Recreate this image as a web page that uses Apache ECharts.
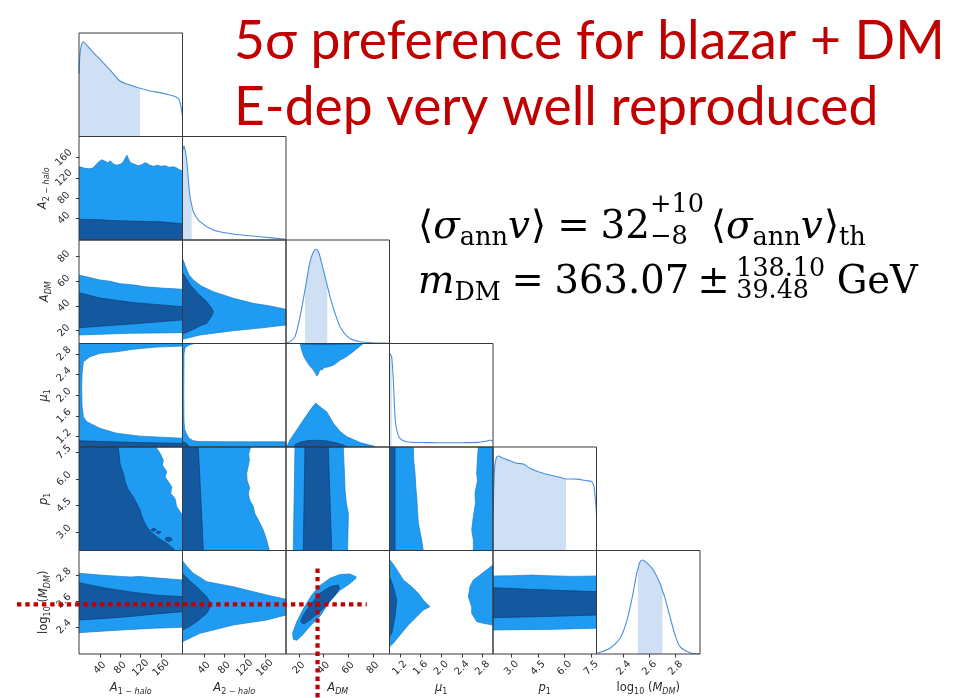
<!DOCTYPE html>
<html>
<head>
<meta charset="utf-8">
<script src="https://cdn.jsdelivr.net/npm/echarts@6/dist/echarts.min.js"></script>
<style>
html, body { margin: 0; padding: 0; background: #fff; }
#chart { width: 970px; height: 698px; }
</style>
</head>
<body>
<div id="chart"></div>
<script>
// ---------- parameters / axes ----------
const paramKeys = ['A1', 'A2', 'ADM', 'mu1', 'p1', 'logM'];
const axisMin = [-1, -3, 9.5, 1.0, 1.95, 2.19];
const axisMax = [202, 202, 93.5, 3.0, 7.8, 2.99];
const ticksA1 = [40, 80, 120, 160];
const ticksA2 = [40, 80, 120, 160];
const ticksADM = [20, 40, 60, 80];
const ticksMu1 = [1.2, 1.6, 2.0, 2.4, 2.8];
const ticksP1 = [3.0, 4.5, 6.0, 7.5];
const ticksLogM = [2.4, 2.6, 2.8];
const tickDecimals = [0, 0, 0, 1, 1, 1];
const axisTitles = [
  '{i|A}{s|1 − }{si|halo}',
  '{i|A}{s|2 − }{si|halo}',
  '{i|A}{si|DM}',
  '{i|μ}{s|1}',
  '{i|p}{s|1}',
  '{n|log}{s|10}{n| (}{i|M}{si|DM}{n|)}'
];

// ---------- 1D marginal posteriors (value, relative density) ----------
const margA1 = [[-1, 0.61], [1.0, 0.80], [4.3, 0.894], [7.4, 0.916], [14.1, 0.884], [27.1, 0.81], [40.2, 0.746],
  [59.8, 0.643], [79.4, 0.536], [99, 0.498], [118.6, 0.466], [138.3, 0.44], [157.9, 0.424], [177.5, 0.401],
  [190.6, 0.379], [195.8, 0.353], [199, 0.288], [202, 0.19]];
const bandA1 = [-1, 118.6];

const margA2 = [[-3, 0.86], [0, 0.908], [2.5, 0.86], [5.3, 0.773], [8.6, 0.58], [11.9, 0.418], [15.2, 0.34],
  [18.4, 0.274], [31.7, 0.177], [58.1, 0.097], [97.6, 0.058], [150.5, 0.032], [202, 0.007]];
const bandA2 = [-3, 15.2];

const margADM = [[10.0, 0.005], [13, 0.02], [16.8, 0.066], [20.9, 0.259], [24.9, 0.517], [29, 0.79], [31.5, 0.88],
  [33.8, 0.91], [35.5, 0.895], [37.1, 0.839], [41.2, 0.645], [43, 0.56], [45.2, 0.452], [49.3, 0.292],
  [53.3, 0.162], [58.9, 0.072], [64, 0.035], [69.6, 0.017], [77, 0.008], [85.8, 0.005], [93.3, 0.003]];
const bandADM = [24.9, 43];

const margMu1 = [[1.005, 0.905], [1.042, 0.872], [1.074, 0.647], [1.106, 0.293], [1.139, 0.164], [1.203, 0.084],
  [1.332, 0.051], [1.6, 0.043], [1.782, 0.042], [2.1, 0.041], [2.426, 0.042], [2.7, 0.045], [2.812, 0.05],
  [2.9, 0.06], [2.942, 0.068], [2.97, 0.062], [2.994, 0.055]];
const bandMu1 = [1.005, 1.042];

const margP1 = [[1.96, 0.35], [1.99, 0.6], [2.05, 0.82], [2.15, 0.9], [2.251, 0.913], [2.534, 0.891], [2.9, 0.868],
  [3.288, 0.843], [3.5, 0.84], [3.664, 0.835], [4.041, 0.794], [4.3, 0.775], [4.606, 0.756], [5.172, 0.729],
  [5.737, 0.707], [6.076, 0.691], [6.679, 0.69], [7.244, 0.674], [7.527, 0.665], [7.659, 0.617], [7.73, 0.5],
  [7.772, 0.423], [7.8, 0.34]];
const bandP1 = [1.96, 6.076];

const margLogM = [[2.196, 0.007], [2.294, 0.055], [2.372, 0.152], [2.423, 0.312], [2.462, 0.522], [2.501, 0.78],
  [2.51, 0.82], [2.526, 0.892], [2.547, 0.908], [2.578, 0.882], [2.629, 0.812], [2.681, 0.683], [2.70, 0.613],
  [2.72, 0.538], [2.758, 0.36], [2.797, 0.184], [2.835, 0.071], [2.913, 0.013], [2.99, 0.0]];
const bandLogM = [2.51, 2.70];

// ---------- 2D credible regions (outer = 2 sigma, inner = 1 sigma) ----------
const outerA2vA1 = [[-1, -3], [202, -3], [202, 134], [196, 136], [190, 140], [184, 142], [176, 141], [168, 144],
  [160, 143], [152, 145], [145, 143], [138, 145], [132, 149], [128, 150], [122, 146], [115, 144], [108, 147],
  [100, 150], [96, 158], [93, 165], [90, 160], [86, 152], [80, 147], [72, 145], [66, 148], [60, 154], [56, 150],
  [50, 153], [44, 156], [38, 152], [32, 146], [27, 140], [20, 138], [10, 139], [5, 141], [-1, 142]];
const innerA2vA1 = [[-1, -3], [202, -3], [202, 29], [160, 33], [120, 34], [80, 35], [40, 37], [-1, 38]];

const outerADMvA1 = [[-1, 16.4], [100, 17.8], [202, 18.3], [202, 53.5], [160, 54.5], [130, 55.5], [107, 57],
  [80, 58], [60, 60], [40, 61], [20, 63], [-1, 65]];
const innerADMvA1 = [[-1, 22.3], [100, 25.3], [202, 28.6], [202, 39.4], [107, 42.6], [40, 46.4], [-1, 50.7]];

const outerADMvA2 = [[-3, 12.9], [31.7, 16.4], [97.6, 19.9], [150, 22], [202, 24.5], [202, 37.3], [170, 40],
  [137, 42.1], [97.6, 46.2], [58, 51.6], [35, 56], [18.4, 61], [10, 65], [5, 70], [-3, 78.6]];
const innerADMvA2 = [[-3, 17.2], [5, 18.5], [18.4, 21], [30, 23.5], [45, 25.9], [55, 32], [58, 35.3], [55, 38],
  [45, 43.4], [30, 49], [18.4, 54.3], [12, 57], [5, 62], [-3, 67]];

const outerMu1vA1 = [[202, 3.0], [-1, 3.0], [-1, 1.0], [202, 1.0], [202, 1.168], [118.6, 1.21], [72.8, 1.265],
  [40.2, 1.36], [27.1, 1.425], [14.1, 1.49], [7.5, 1.585], [5, 1.8], [4.3, 2.165], [5, 2.4], [7.5, 2.648],
  [20.6, 2.745], [40.2, 2.81], [72.8, 2.84], [105.5, 2.89], [151.3, 2.93], [202, 2.95]];
const innerMu1vA1 = [[-1, 1.0], [202, 1.0], [202, 1.07], [100, 1.09], [-1, 1.12]];

const outerMu1vA2 = [[-3, 3.0], [-3, 1.0], [202, 1.0], [202, 1.10], [100, 1.10], [30, 1.105], [18.4, 1.12],
  [10, 1.17], [5, 1.25], [1, 1.35], [0, 1.5], [-0.5, 2.0], [0, 2.8], [2, 2.92], [10, 2.97], [20, 3.0]];
const innerMu1vA2 = [[-3, 1.0], [10, 1.0], [8, 1.04], [3, 1.08], [-3, 1.1]];

const outerMu1vADMtop = [[20.9, 3.0], [22.2, 2.87], [24, 2.75], [26.3, 2.65], [29, 2.56], [31.7, 2.49],
  [33.5, 2.42], [34.5, 2.37], [35.5, 2.40], [36.5, 2.46], [37.5, 2.50], [39, 2.49], [40, 2.53], [44, 2.55],
  [47.9, 2.58], [53, 2.67], [58.8, 2.75], [65, 2.86], [72.3, 3.0]];
const outerMu1vADMbottom = [[10.1, 1.0], [12.7, 1.135], [18.2, 1.33], [23.6, 1.52], [29, 1.71], [31.5, 1.79],
  [33, 1.83], [33.8, 1.85], [35, 1.82], [36, 1.80], [37.1, 1.78], [42.5, 1.68], [47.9, 1.46], [53.4, 1.30],
  [58.9, 1.20], [70.2, 1.08], [80.5, 1.02], [82, 1.0]];
const innerMu1vADMtop = [[22.5, 3.0], [23, 2.99], [40, 2.987], [60, 2.99], [70, 3.0]];
const innerMu1vADMbottom = [[15.4, 1.0], [17, 1.05], [22, 1.1], [28, 1.125], [34, 1.13], [42, 1.12], [50, 1.08],
  [56, 1.04], [58.9, 1.0]];

const outerP1vA1 = [[-1, 1.95], [202, 1.95], [202, 4.01], [200.4, 4.01], [190.6, 4.42], [187.3, 4.89],
  [178.9, 5.17], [180.8, 5.55], [174.3, 5.83], [167.7, 6.12], [171, 6.40], [162.5, 6.78], [164.4, 7.06],
  [157.9, 7.45], [151.3, 7.73], [150.5, 7.8], [-1, 7.8]];
const innerP1vA1 = [[-1, 1.95], [187.3, 1.95], [184, 2.07], [171, 2.36], [160, 2.55], [151.3, 2.73], [140, 3.0],
  [131.7, 3.30], [125.2, 3.67], [121, 4.0], [118.6, 4.24], [112.1, 4.62], [105, 5.0], [95.8, 5.37], [90, 5.8],
  [86, 6.31], [82, 6.6], [79.4, 6.88], [78, 7.3], [76.1, 7.73], [76, 7.8], [-1, 7.8]];
const innerP1vA1isle1 = [[168, 2.55], [175, 2.45], [182, 2.55], [178, 2.70], [170, 2.68]];
const innerP1vA1isle2 = [[140, 3.12], [146, 3.02], [151, 3.12], [146, 3.22]];
const innerP1vA1isle3 = [[150, 2.95], [156, 2.9], [160, 3.0], [154, 3.05]];

const outerP1vA2 = [[-3, 1.95], [169, 1.95], [163.7, 2.54], [157, 3.11], [147.2, 3.67], [140, 4.05],
  [137.3, 4.43], [130, 4.8], [127.4, 5.18], [130, 5.5], [125, 5.9], [124.1, 6.31], [127, 6.7], [129.4, 7.06],
  [128, 7.4], [132, 7.8], [-3, 7.8]];
const innerP1vA2 = [[-3, 1.95], [38.3, 1.95], [28.3, 7.8], [-3, 7.8]];

const outerP1vADM = [[15.4, 1.95], [59.5, 1.95], [60.1, 4.05], [58.5, 4.6], [57.4, 5.37], [57, 6.2], [56, 7.8],
  [16.8, 7.8]];
const innerP1vADM = [[23.5, 1.95], [46.6, 1.95], [43.8, 7.8], [24.9, 7.8]];

const outerP1vMu1left = [[1.0, 1.95], [1.653, 1.95], [1.621, 2.54], [1.557, 3.5], [1.54, 4.2], [1.53, 4.80],
  [1.51, 5.5], [1.493, 6.31], [1.47, 7.0], [1.46, 7.8], [1.0, 7.8]];
const outerP1vMu1right = [[2.716, 7.8], [2.70, 7.2], [2.685, 6.31], [2.70, 5.9], [2.652, 5.18], [2.66, 4.6],
  [2.62, 3.86], [2.588, 3.11], [2.62, 2.54], [2.62, 1.95], [3.0, 1.95], [3.0, 7.8]];
const innerP1vMu1 = [[1.0, 1.95], [1.106, 1.95], [1.106, 7.8], [1.0, 7.8]];

const outerLogMvA1 = [[-1, 2.814], [40, 2.80], [80, 2.79], [100, 2.785], [118, 2.79], [130, 2.785], [160, 2.775],
  [202, 2.762], [202, 2.396], [150, 2.39], [100, 2.38], [50, 2.368], [-1, 2.355]];
const innerLogMvA1 = [[-1, 2.741], [50, 2.70], [100, 2.67], [150, 2.645], [202, 2.633], [202, 2.517],
  [150, 2.50], [100, 2.48], [50, 2.465], [-1, 2.453]];

const outerLogMvA2 = [[-3, 2.911], [5, 2.87], [18.4, 2.814], [45, 2.749], [97.6, 2.71], [163.8, 2.646],
  [202, 2.613], [202, 2.491], [163.8, 2.453], [97.6, 2.414], [31.7, 2.35], [10, 2.31], [-3, 2.285]];
const innerLogMvA2 = [[-3, 2.814], [10, 2.76], [25.1, 2.71], [45, 2.633], [52, 2.59], [54.8, 2.569], [50, 2.54],
  [45, 2.505], [25.1, 2.44], [10, 2.40], [-3, 2.376]];

const outerLogMvADM = [[66.3, 2.788], [61.4, 2.808], [53.3, 2.805], [45.2, 2.775], [37.1, 2.72], [30.3, 2.645],
  [23.6, 2.54], [18.2, 2.437], [14.9, 2.355], [15.4, 2.304], [18.2, 2.296], [22.2, 2.33], [29, 2.405],
  [37.1, 2.482], [45.2, 2.6], [53.3, 2.682], [61.4, 2.735], [66.3, 2.775]];
const innerLogMvADM = [[51.9, 2.723], [45.2, 2.71], [37.1, 2.659], [30.3, 2.582], [23.6, 2.491], [21.4, 2.44],
  [23.6, 2.422], [29, 2.453], [37.1, 2.517], [43.8, 2.582], [49.3, 2.646], [52.8, 2.698]];

const outerLogMvMu1left = [[1.0, 2.917], [1.01, 2.917], [1.106, 2.865], [1.267, 2.762], [1.429, 2.71],
  [1.557, 2.659], [1.653, 2.607], [1.782, 2.556], [1.653, 2.53], [1.525, 2.478], [1.363, 2.414], [1.203, 2.337],
  [1.074, 2.273], [1.0, 2.246]];
const outerLogMvMu1right = [[3.0, 2.878], [2.748, 2.801], [2.619, 2.762], [2.555, 2.71], [2.523, 2.633],
  [2.588, 2.556], [2.588, 2.505], [2.685, 2.44], [2.812, 2.427], [3.0, 2.414]];
const innerLogMvMu1 = [[1.0, 2.788], [1.074, 2.71], [1.139, 2.607], [1.106, 2.478], [1.042, 2.35], [1.0, 2.324]];

const outerLogMvP1 = [[1.95, 2.793], [3, 2.795], [4.2, 2.80], [5, 2.795], [6.5, 2.79], [7.8, 2.793],
  [7.8, 2.389], [5, 2.38], [1.95, 2.376]];
const innerLogMvP1 = [[1.95, 2.703], [4, 2.69], [6, 2.68], [7.8, 2.672], [7.8, 2.491], [5, 2.48], [1.95, 2.471]];

// best-fit crosshair (A_DM, log10 M_DM) and its extent
const bestFitPoint = [35.1, 2.574];
const crossTopLogM = 2.85;
const crossRightADM = 75;

// ---------- panel table ----------
const tickSets = [ticksA1, ticksA2, ticksADM, ticksMu1, ticksP1, ticksLogM];
const marginals = [
  { curve: margA1, band: bandA1 }, { curve: margA2, band: bandA2 }, { curve: margADM, band: bandADM },
  { curve: margMu1, band: bandMu1 }, { curve: margP1, band: bandP1 }, { curve: margLogM, band: bandLogM }
];
const regionPanels = [
  { r: 1, c: 0, outer: [outerA2vA1], inner: [innerA2vA1] },
  { r: 2, c: 0, outer: [outerADMvA1], inner: [innerADMvA1] },
  { r: 2, c: 1, outer: [outerADMvA2], inner: [innerADMvA2] },
  { r: 3, c: 0, outer: [outerMu1vA1], inner: [innerMu1vA1] },
  { r: 3, c: 1, outer: [outerMu1vA2], inner: [innerMu1vA2] },
  { r: 3, c: 2, outer: [outerMu1vADMtop, outerMu1vADMbottom], inner: [innerMu1vADMtop, innerMu1vADMbottom] },
  { r: 4, c: 0, outer: [outerP1vA1], inner: [innerP1vA1, innerP1vA1isle1, innerP1vA1isle2, innerP1vA1isle3] },
  { r: 4, c: 1, outer: [outerP1vA2], inner: [innerP1vA2] },
  { r: 4, c: 2, outer: [outerP1vADM], inner: [innerP1vADM] },
  { r: 4, c: 3, outer: [outerP1vMu1left, outerP1vMu1right], inner: [innerP1vMu1] },
  { r: 5, c: 0, outer: [outerLogMvA1], inner: [innerLogMvA1] },
  { r: 5, c: 1, outer: [outerLogMvA2], inner: [innerLogMvA2] },
  { r: 5, c: 2, outer: [outerLogMvADM], inner: [innerLogMvADM] },
  { r: 5, c: 3, outer: [outerLogMvMu1left, outerLogMvMu1right], inner: [innerLogMvMu1] },
  { r: 5, c: 4, outer: [outerLogMvP1], inner: [innerLogMvP1] }
];

// ---------- styling ----------
const CELL = 103.5, LEFT0 = 79, TOP0 = 33;
const OUTER_FILL = '#1f9cf2', OUTER_EDGE = '#187ccc';
const INNER_FILL = '#14589f', INNER_EDGE = '#0c3f77';
const LINE_COLOR = '#4a8fdc', BAND_FILL = '#cfe0f5';
const TEXT_COLOR = '#2b2b2b';
const LABEL_FONT = 'DejaVu Sans';

const nameRich = {
  n: { fontFamily: LABEL_FONT, fontSize: 11.5, color: TEXT_COLOR, lineHeight: 16, verticalAlign: 'middle' },
  i: { fontFamily: LABEL_FONT, fontSize: 11.5, fontStyle: 'italic', color: TEXT_COLOR, lineHeight: 16, verticalAlign: 'middle' },
  s: { fontFamily: LABEL_FONT, fontSize: 8, color: TEXT_COLOR, lineHeight: 9, verticalAlign: 'bottom' },
  si: { fontFamily: LABEL_FONT, fontSize: 8, fontStyle: 'italic', color: TEXT_COLOR, lineHeight: 9, verticalAlign: 'bottom' }
};

function valueAxis(gi, k, showLabels, isY) {
  const ax = {
    type: 'value', gridIndex: gi, min: axisMin[k], max: axisMax[k],
    splitLine: { show: false },
    axisLine: { show: false },
    axisTick: { show: showLabels, customValues: tickSets[k], length: 3.5, inside: false,
      lineStyle: { color: '#333', width: 1 } },
    axisLabel: {
      show: showLabels, customValues: tickSets[k], rotate: 45, align: 'center', verticalAlign: 'middle',
      margin: isY ? 15 : 14, fontSize: 10, fontFamily: LABEL_FONT, color: TEXT_COLOR,
      formatter: v => Number(v).toFixed(tickDecimals[k])
    }
  };
  if (showLabels) {
    ax.name = axisTitles[k];
    ax.nameLocation = 'middle';
    ax.nameGap = isY ? 25 : 26;
    ax.nameTextStyle = { rich: nameRich };
    if (isY) ax.nameRotate = 90;
  }
  return ax;
}

const grids = [], xAxes = [], yAxes = [], series = [];
const gridIndex = {};
let gi = 0;
for (let r = 0; r < 6; r++) {
  for (let c = 0; c <= r; c++) {
    gridIndex[r + '_' + c] = gi;
    grids.push({
      left: LEFT0 + c * CELL, top: TOP0 + r * CELL, width: CELL, height: CELL,
      show: true, borderColor: '#3a3a3a', borderWidth: 1, backgroundColor: 'transparent', z: 8
    });
    xAxes.push(valueAxis(gi, c, r === 5, false));
    if (r === c) {
      yAxes.push({ type: 'value', gridIndex: gi, min: 0, max: 1.0, show: false });
    } else {
      yAxes.push(valueAxis(gi, r, c === 0, true));
    }
    gi++;
  }
}

// filled credible regions drawn as polygons through the panel's axes
function regionSeries(g, polys, fill, edge, z) {
  return {
    type: 'custom', coordinateSystem: 'cartesian2d', xAxisIndex: g, yAxisIndex: g,
    z: z, silent: true, clip: true, animation: false,
    data: polys.map(p => [p[0][0], p[0][1]]),
    encode: { x: 0, y: 1 },
    renderItem: (params, api) => ({
      type: 'polygon',
      shape: { points: polys[params.dataIndex].map(pt => api.coord(pt)) },
      style: { fill: fill, stroke: edge, lineWidth: 0.7 }
    })
  };
}

regionPanels.forEach(p => {
  const g = gridIndex[p.r + '_' + p.c];
  series.push(regionSeries(g, p.outer, OUTER_FILL, OUTER_EDGE, 2));
  series.push(regionSeries(g, p.inner, INNER_FILL, INNER_EDGE, 3));
});

// marginal curves with the shaded credible interval
marginals.forEach((m, k) => {
  const g = gridIndex[k + '_' + k];
  series.push({
    type: 'line', xAxisIndex: g, yAxisIndex: g, z: 2, silent: true, animation: false,
    showSymbol: false, smooth: 0.25,
    data: m.curve.filter(pt => pt[0] >= m.band[0] && pt[0] <= m.band[1]),
    lineStyle: { width: 0 },
    areaStyle: { color: BAND_FILL, opacity: 1, origin: 'start' }
  });
  series.push({
    type: 'line', xAxisIndex: g, yAxisIndex: g, z: 4, silent: true, animation: false,
    showSymbol: false, smooth: 0.25, data: m.curve,
    lineStyle: { color: LINE_COLOR, width: 1.1 }
  });
});

// dotted best-fit crosshair on the A_DM / log10 M_DM panel
const crossGrid = gridIndex['5_2'];
series.push({
  type: 'custom', coordinateSystem: 'cartesian2d', xAxisIndex: crossGrid, yAxisIndex: crossGrid,
  z: 20, silent: true, clip: false, animation: false,
  data: [bestFitPoint], encode: { x: 0, y: 1 },
  renderItem: (params, api) => {
    const c = api.coord([api.value(0), api.value(1)]);
    const top = api.coord([api.value(0), crossTopLogM]);
    const right = api.coord([crossRightADM, api.value(1)]);
    const st = { stroke: '#c00000', lineWidth: 4.2, lineDash: [4.4, 3.9] };
    return {
      type: 'group', children: [
        { type: 'line', shape: { x1: c[0], y1: top[1], x2: c[0], y2: api.getHeight() }, style: st },
        { type: 'line', shape: { x1: 17, y1: c[1], x2: right[0], y2: c[1] }, style: st }
      ]
    };
  }
});

// ---------- headline and formula text ----------
const mctx = document.createElement('canvas').getContext('2d');
function measure(t, size, italic, family) {
  mctx.font = (italic ? 'italic ' : '') + size + 'px ' + family;
  return mctx.measureText(t).width;
}

const HEAD_FONT = 'Lato';
const headLines = ['5σ preference for blazar + DM', 'E-dep very well reproduced'];
const headSize = 49 * 711 / measure(headLines[0], 49, false, HEAD_FONT);
const headBaselines = [58, 124];
const graphics = headLines.map((t, i) => ({
  type: 'text', x: 234, y: headBaselines[i] - 0.3 * headSize, silent: true,
  style: { text: t, fontSize: headSize, fontFamily: HEAD_FONT, fill: '#c00000',
    align: 'left', verticalAlign: 'middle', textAlign: 'left', textVerticalAlign: 'middle' }
}));

const SERIF = 'DejaVu Serif';
const formula1 = [
  { t: '⟨' }, { t: 'σ', it: 1 }, { t: 'ann', sc: 0.66, dy: 0.15 }, { t: 'v', it: 1, gap: 0.03 }, { t: '⟩', gap: 0.28 },
  { t: '=', gap: 0.28 }, { t: '32' },
  { stack: [{ t: '+10', sc: 0.66, dy: -0.7 }, { t: '−8', sc: 0.66, dy: 0.12 }], gap: 0.17 },
  { t: '⟨' }, { t: 'σ', it: 1 }, { t: 'ann', sc: 0.66, dy: 0.15 }, { t: 'v', it: 1, gap: 0.03 }, { t: '⟩' },
  { t: 'th', sc: 0.66, dy: 0.15 }
];
const formula2 = [
  { t: 'm', it: 1 }, { t: 'DM', sc: 0.66, dy: 0.15, gap: 0.28 }, { t: '=', gap: 0.28 }, { t: '363.07', gap: 0.22 },
  { t: '±', gap: 0.17 },
  { stack: [{ t: '138.10', sc: 0.66, dy: -0.47 }, { t: '39.48', sc: 0.66, dy: 0.1 }], gap: 0.3 },
  { t: 'GeV' }
];

function layoutFormula(pieces, x0, baseline, width) {
  const natural = S => pieces.reduce((w, p) => {
    const parts = p.stack || [p];
    return w + Math.max(...parts.map(q => measure(q.t, S * (q.sc || 1), q.it, SERIF))) + (p.gap || 0) * S;
  }, 0);
  const S = 40 * width / natural(40);
  let x = x0;
  pieces.forEach(p => {
    const parts = p.stack || [p];
    let pw = 0;
    parts.forEach(q => {
      const size = S * (q.sc || 1);
      graphics.push({
        type: 'text', x: x, y: baseline + (q.dy || 0) * S - 0.3 * size, silent: true,
        style: { text: q.t, fontSize: size, fontFamily: SERIF, fontStyle: q.it ? 'italic' : 'normal', fill: '#000',
          align: 'left', verticalAlign: 'middle', textAlign: 'left', textVerticalAlign: 'middle' }
      });
      pw = Math.max(pw, measure(q.t, size, q.it, SERIF));
    });
    x += pw + (p.gap || 0) * S;
  });
}
layoutFormula(formula1, 418, 240, 448);
layoutFormula(formula2, 418, 295, 500);

const chart = echarts.init(document.getElementById('chart'), null, { renderer: 'canvas' });
chart.setOption({
  animation: false,
  backgroundColor: '#fff',
  grid: grids,
  xAxis: xAxes,
  yAxis: yAxes,
  series: series,
  graphic: { elements: graphics }
});
</script>
</body>
</html>
